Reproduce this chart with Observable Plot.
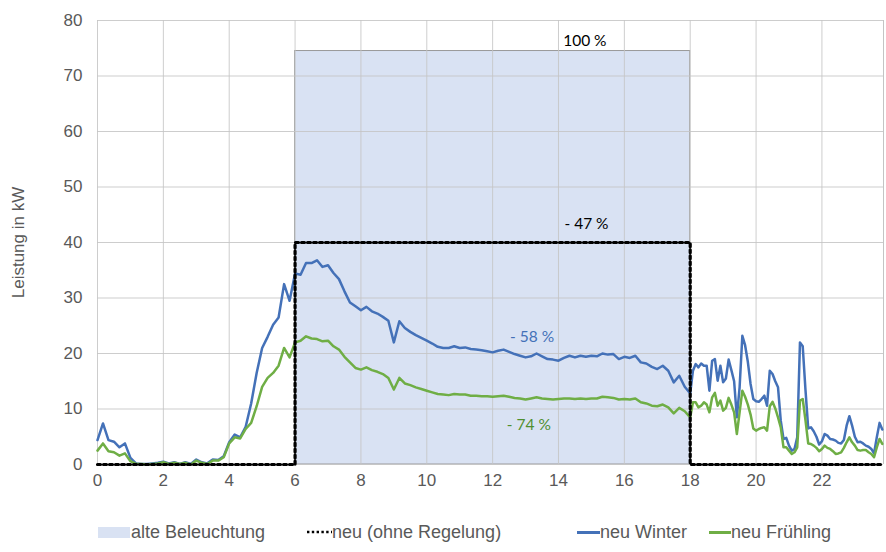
<!DOCTYPE html>
<html>
<head>
<meta charset="utf-8">
<script src="https://cdn.jsdelivr.net/npm/d3@7"></script>
<script src="https://cdn.jsdelivr.net/npm/@observablehq/plot@0.6"></script>
<style>
  html, body { margin: 0; padding: 0; background: #fff; }
  #wrap { position: relative; width: 886px; height: 552px; font-family: "Liberation Sans", Arial, sans-serif; color: #595959; }
  #legend { position: absolute; left: 0; top: 520px; width: 886px; height: 26px; font-size: 18px; }
  #legend .t { position: absolute; top: 0; line-height: 24px; white-space: nowrap; }
  #legend .sw { position: absolute; }
</style>
</head>
<body>
<div id="wrap">
  <div id="chart"></div>
  <div id="legend"></div>
</div>
<script>
// ---- Data ----
// time axis: 10-minute readings until 18 h, 5-minute readings from 18 h (in minutes of the day)
const minutesA = d3.range(0, 1080, 10);
const minutesB = d3.range(1080, 1435, 5);
const hours = [...minutesA, ...minutesB].map(m => m / 60);

const winter = [
  4.4, 7.4, 4.4, 4.1, 3.1, 3.8, 1.2, 0.2, 0.1, 0.1, 0.2, 0.3,
  0.5, 0.2, 0.4, 0.1, 0.4, 0.1, 0.9, 0.4, 0.2, 0.9, 0.8, 1.5,
  4.0, 5.4, 4.9, 6.8, 11.0, 16.5, 21.0, 23.0, 25.2, 26.5, 32.5, 29.5,
  34.4, 34.2, 36.3, 36.3, 36.8, 35.6, 35.9, 34.5, 33.4, 31.2, 29.2, 28.5,
  27.8, 28.4, 27.6, 27.2, 26.6, 25.9, 22.0, 25.8, 24.6, 23.9, 23.3, 22.8,
  22.3, 21.8, 21.2, 21.0, 21.0, 21.3, 21.0, 21.1, 20.8, 20.7, 20.6, 20.4,
  20.2, 20.5, 20.7, 20.3, 19.9, 19.6, 19.3, 19.5, 20.0, 19.5, 19.0, 18.9,
  18.7, 19.2, 19.6, 19.3, 19.6, 19.4, 19.6, 19.5, 20.0, 19.8, 19.9, 19.0,
  19.4, 19.2, 19.6, 18.4, 18.2, 17.6, 17.2, 17.8, 16.9, 14.8, 16.0, 14.0,
  // from 18 h, 5-minute readings
  12.8, 16.9, 18.1, 17.5, 18.2, 17.8, 17.8, 13.3, 18.7, 19.0, 15.1, 17.8,
  14.8, 15.5, 18.9, 17.0, 15.0, 8.5, 13.9, 23.2, 21.5, 18.5, 14.5, 11.8,
  11.4, 11.3, 11.8, 12.4, 10.6, 16.9, 16.3, 15.0, 13.9, 7.9, 4.6, 4.8,
  3.4, 2.5, 2.8, 4.9, 22.0, 21.3, 13.5, 6.5, 6.7, 6.0, 5.0, 3.6,
  4.2, 5.5, 5.2, 4.6, 4.5, 4.3, 3.9, 3.8, 4.4, 7.0, 8.7, 7.0,
  5.0, 4.0, 4.1, 3.8, 3.4, 3.2, 2.8, 2.0, 4.9, 7.5, 6.3
];

const spring = [
  2.5, 3.8, 2.4, 2.2, 1.6, 2.0, 0.6, 0.1, 0.1, 0.0, 0.1, 0.2,
  0.4, 0.1, 0.3, 0.1, 0.3, 0.0, 0.7, 0.3, 0.1, 0.7, 0.7, 1.3,
  3.8, 4.9, 4.7, 6.4, 7.5, 10.5, 14.0, 15.6, 16.5, 17.8, 21.0, 19.3,
  22.0, 22.3, 23.1, 22.7, 22.6, 22.2, 22.3, 21.3, 20.7, 19.4, 18.4, 17.4,
  17.1, 17.5, 17.0, 16.7, 16.3, 15.6, 13.5, 15.6, 14.6, 14.3, 13.9, 13.6,
  13.3, 13.0, 12.7, 12.6, 12.5, 12.7, 12.6, 12.6, 12.4, 12.4, 12.3, 12.3,
  12.2, 12.3, 12.4, 12.2, 12.0, 11.9, 11.7, 11.9, 12.1, 11.9, 11.8, 11.7,
  11.8, 11.9, 11.9, 11.8, 11.9, 11.8, 11.9, 11.9, 12.2, 12.1, 12.0, 11.7,
  11.8, 11.7, 11.9, 11.2, 11.0, 10.6, 10.5, 10.8, 10.3, 9.2, 10.2, 9.6,
  // from 18 h, 5-minute readings
  8.5, 11.2, 11.2, 10.3, 10.6, 11.2, 10.8, 9.4, 12.1, 12.9, 10.6, 11.5,
  9.7, 10.2, 12.0, 10.8, 9.4, 5.5, 9.4, 13.3, 12.2, 10.8, 9.0, 6.5,
  6.1, 6.4, 6.6, 6.7, 6.1, 10.5, 11.3, 10.1, 8.5, 6.7, 3.1, 3.1,
  2.5, 1.9, 2.2, 3.1, 11.5, 11.8, 8.0, 3.8, 3.7, 3.4, 3.0, 2.4,
  2.8, 3.4, 3.0, 2.8, 2.4, 1.9, 2.0, 2.2, 3.0, 4.0, 4.9, 4.0,
  3.4, 2.6, 2.5, 2.6, 2.6, 2.2, 1.9, 1.3, 3.1, 4.6, 3.7
];

// old lighting: constant load between 6 h and 18 h
const oldStart = 6, oldEnd = 18, oldValue = 74.5;
// new lighting without control (step profile)
const newHours = [0, 6, 6, 18, 18, 23.87];
const newValues = [0, 0, 40, 40, 0, 0];

const xTicks = [0, 2, 4, 6, 8, 10, 12, 14, 16, 18, 20, 22];
const yTicks = [0, 10, 20, 30, 40, 50, 60, 70, 80];
const xMax = 23.87;

const annotationLabels = ["100 %", "- 47 %", "- 58 %", "- 74 %"];
const annotationHours = [14.8, 14.85, 13.2, 13.1];
const annotationValues = [76.3, 43.3, 23.0, 7.1];

const legendLabels = ["alte Beleuchtung", "neu (ohne Regelung)", "neu Winter", "neu Frühling"];

// ---- Tables ----
const winterData = hours.map((h, i) => ({ h, v: winter[i] }));
const springData = hours.map((h, i) => ({ h, v: spring[i] }));
const newData = newHours.map((h, i) => ({ h, v: newValues[i] }));
const oldData = [{ x1: oldStart, x2: oldEnd, y1: 0, y2: oldValue }];
const annotations = annotationLabels.map((label, i) => ({ label, h: annotationHours[i], v: annotationValues[i] }));

const BLUE = "#4471b8";
const GREEN = "#6fae45";
const GRID = "#c4c4c4";

const chart = Plot.plot({
  width: 886,
  height: 500,
  marginTop: 20,
  marginBottom: 36,
  marginLeft: 97,
  marginRight: 3,
  style: { fontFamily: "Liberation Sans, Arial, sans-serif", color: "#595959", background: "#fff" },
  x: { domain: [0, xMax] },
  y: { domain: [0, 80] },
  marks: [
    Plot.rect(oldData, { x1: "x1", x2: "x2", y1: "y1", y2: "y2", fill: "#d9e2f3", stroke: "#9a9a9a", strokeWidth: 1 }),
    Plot.ruleY(yTicks, { stroke: GRID, strokeWidth: 1, strokeOpacity: 0.85 }),
    Plot.ruleX(xTicks, { stroke: GRID, strokeWidth: 1, strokeOpacity: 0.85 }),
    Plot.ruleX([xMax], { stroke: GRID, strokeWidth: 1 }),
    Plot.line(winterData, { x: "h", y: "v", stroke: BLUE, strokeWidth: 2.5, strokeLinejoin: "round" }),
    Plot.line(springData, { x: "h", y: "v", stroke: GREEN, strokeWidth: 2.5, strokeLinejoin: "round" }),
    Plot.line(newData, { x: "h", y: "v", stroke: "#000", strokeWidth: 3.2, strokeDasharray: "3 3" }),
    Plot.text(annotations, {
      x: "h", y: "v", text: "label",
      fill: (d, i) => ["#000", "#000", BLUE, "#4f8f2f"][i],
      fontSize: 15.5, fontFamily: "Lato, 'Open Sans', sans-serif"
    }),
    Plot.axisY({ ticks: yTicks, tickSize: 0, tickPadding: 15, fontSize: 17, label: "Leistung in kW", labelAnchor: "center", labelArrow: "none", labelOffset: 86 }),
    Plot.axisX({ ticks: xTicks, tickSize: 0, tickPadding: 9, fontSize: 17, label: null })
  ]
});
document.getElementById("chart").appendChild(chart);

// ---- Legend ----
const legend = document.getElementById("legend");
const items = [
  { sw: `<div class="sw" style="left:98px;top:7px;width:32px;height:11px;background:#d9e2f3"></div>`, tx: 131 },
  { sw: `<svg class="sw" style="left:307px;top:10px" width="25" height="4"><line x1="0" y1="2" x2="25" y2="2" stroke="#000" stroke-width="2.4" stroke-dasharray="2.4 2.4"/></svg>`, tx: 332 },
  { sw: `<div class="sw" style="left:577px;top:11px;width:23px;height:2.5px;background:${BLUE}"></div>`, tx: 600 },
  { sw: `<div class="sw" style="left:709px;top:11px;width:22px;height:2.5px;background:${GREEN}"></div>`, tx: 731 }
];
legend.innerHTML = items.map((it, i) => it.sw + `<span class="t" style="left:${it.tx}px">${legendLabels[i]}</span>`).join("");
</script>
</body>
</html>
